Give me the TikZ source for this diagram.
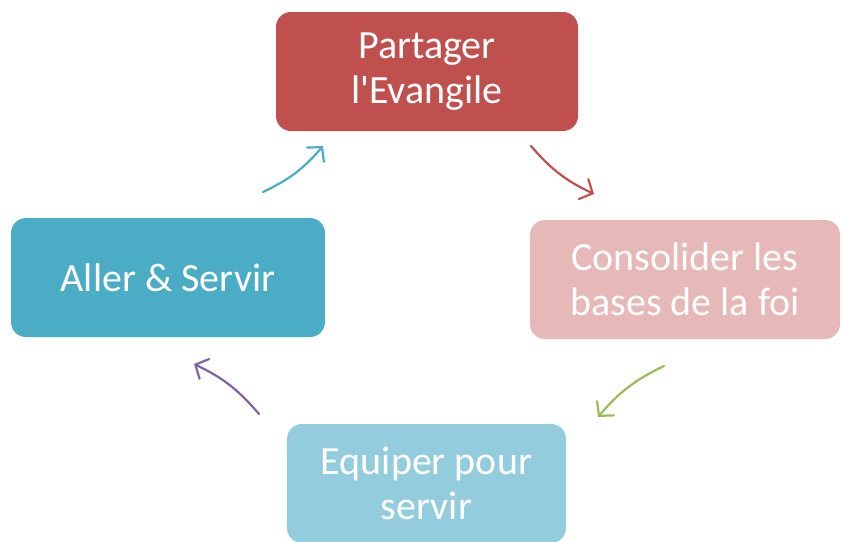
\documentclass[tikz,border=0pt]{standalone}
\usepackage{fontspec}
\setmainfont{Carlito}
\usetikzlibrary{arrows.meta}
\definecolor{shareRed}{HTML}{C0504D}
\definecolor{buildPink}{HTML}{E6B9B8}
\definecolor{equipBlue}{HTML}{93CDDD}
\definecolor{goTeal}{HTML}{4BACC6}
\definecolor{arrowGreen}{HTML}{9BBB59}
\definecolor{arrowPurple}{HTML}{8064A2}

\begin{document}
\begin{tikzpicture}[
    x=1pt, y=-1pt,
    box/.style={rounded corners=15pt, inner sep=0pt, minimum height=119pt,
      text=white, align=center, font=\fontsize{40}{45}\selectfont},
    cycle/.style={line width=2.2pt, line cap=round,
      -{Straight Barb[length=10pt,width=22pt,line cap=round]}}]
    \useasboundingbox (0,0) rectangle (842,541);
    \clip (0,0) rectangle (842,541);
    % NODES
    % share
    \node[box, fill=shareRed, minimum width=302pt] (share) at (427,71.5) {Partager\\l\textquotesingle Evangile};
    % build
    \node[box, fill=buildPink, minimum width=310pt] (build) at (685,279.5) {Consolider les\\bases de la foi};
    % equip
    \node[box, fill=equipBlue, minimum width=279pt] (equip) at (426.5,483.5) {Equiper pour\\servir};
    % go
    \node[box, fill=goTeal, minimum width=314pt] (go) at (168,277.5) {Aller \& Servir};

    % arrow ends
    \coordinate (share-out) at (531,146);
    \coordinate (build-in) at (594,194);
    \coordinate (build-out) at (664,366);
    \coordinate (equip-in) at (598,417);
    \coordinate (equip-out) at (259,414);
    \coordinate (go-in) at (194,364);
    \coordinate (go-out) at (263,192);
    \coordinate (share-in) at (323,146);

    % ARROWS
    \draw[cycle, shareRed] (share-out) to[bend right=12] (build-in);
    \draw[cycle, arrowGreen] (build-out) to[bend right=12] (equip-in);
    \draw[cycle, arrowPurple] (equip-out) to[bend right=12] (go-in);
    \draw[cycle, goTeal] (go-out) to[bend right=12] (share-in);
\end{tikzpicture}
\end{document}
